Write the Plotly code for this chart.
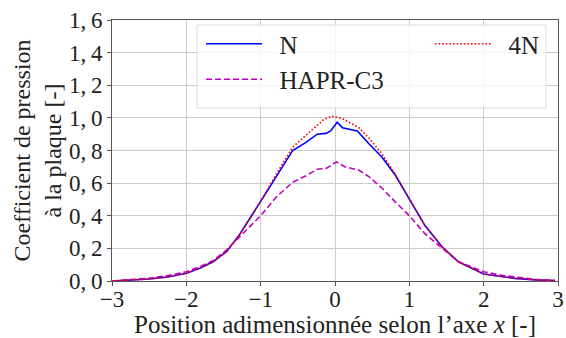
import plotly.graph_objects as go

# ----- DATA -----
x_n = [-3, -2.75, -2.5, -2.25, -2, -1.82, -1.64, -1.46, -1.29, -1.15, -1, -0.79, -0.57,
       -0.39, -0.24, -0.12, -0.06, 0.03, 0.1, 0.3, 0.46, 0.63, 0.81, 1.0, 1.21, 1.44,
       1.66, 2.0, 2.2, 2.42, 2.7, 2.96]
y_n = [0.0, 0.005, 0.012, 0.025, 0.047, 0.078, 0.118, 0.18, 0.28, 0.38, 0.485, 0.64, 0.80,
       0.85, 0.90, 0.905, 0.92, 0.973, 0.94, 0.92, 0.84, 0.76, 0.65, 0.505, 0.34, 0.21,
       0.118, 0.043, 0.028, 0.016, 0.007, 0.002]

x_4n = [-3, -2.75, -2.5, -2.25, -2, -1.82, -1.64, -1.46, -1.29, -1.15, -1, -0.79, -0.57,
        -0.3, -0.15, -0.04, 0.1, 0.32, 0.47, 0.63, 0.79, 1.0, 1.21, 1.44, 1.66, 2.0,
        2.2, 2.42, 2.7, 2.96]
y_4n = [0.0, 0.005, 0.012, 0.025, 0.047, 0.078, 0.118, 0.18, 0.28, 0.38, 0.49, 0.655, 0.82,
        0.93, 0.99, 1.01, 0.995, 0.94, 0.87, 0.78, 0.67, 0.505, 0.34, 0.21, 0.118, 0.043,
        0.028, 0.016, 0.007, 0.002]

x_hapr = [-3, -2.75, -2.5, -2.25, -2, -1.82, -1.64, -1.46, -1.29, -1, -0.79, -0.57, -0.39,
          -0.24, -0.12, 0.02, 0.13, 0.32, 0.455, 0.63, 0.81, 1.0, 1.21, 1.44, 1.66, 2.0,
          2.2, 2.42, 2.7, 2.96]
y_hapr = [0.0, 0.007, 0.017, 0.033, 0.057, 0.088, 0.125, 0.19, 0.27, 0.40, 0.515, 0.605, 0.645,
          0.685, 0.69, 0.73, 0.70, 0.68, 0.64, 0.57, 0.485, 0.40, 0.29, 0.20, 0.118, 0.057,
          0.038, 0.025, 0.01, 0.003]

x_ticks = [-3, -2, -1, 0, 1, 2, 3]
x_ticklabels = ["\u22123", "\u22122", "\u22121", "0", "1", "2", "3"]
y_ticks = [0, 0.2, 0.4, 0.6, 0.8, 1.0, 1.2, 1.4, 1.6]
y_ticklabels = ["0,\u20090", "0,\u20092", "0,\u20094", "0,\u20096", "0,\u20098",
                "1,\u20090", "1,\u20092", "1,\u20094", "1,\u20096"]

FONT = "Liberation Serif, Times New Roman, serif"
GAP = "\u2002"  # extra gap between legend line and label, as in matplotlib

fig = go.Figure()
fig.add_trace(go.Scatter(x=x_n, y=y_n, mode="lines", name=GAP + "N", legend="legend",
                         line=dict(color="#0000ff", width=1.6)))
fig.add_trace(go.Scatter(x=x_hapr, y=y_hapr, mode="lines", name=GAP + "HAPR-C3", legend="legend",
                         line=dict(color="#bf00bf", width=1.6, dash="6px,3px")))
fig.add_trace(go.Scatter(x=x_4n, y=y_4n, mode="lines", name=GAP + "4N", legend="legend2",
                         line=dict(color="#ff0000", width=1.6, dash="1.6px,2px")))

# legend frame (matplotlib style, two columns)
fig.add_shape(type="rect", xref="paper", yref="paper",
              x0=0.1906, x1=0.973, y0=0.663, y1=0.981,
              fillcolor="rgba(255,255,255,0.8)", line=dict(color="#dddddd", width=1),
              layer="above")

axis_style = dict(
    showline=True, linecolor="#555555", linewidth=1, mirror=True,
    showgrid=True, gridcolor="#cccccc", gridwidth=1, zeroline=False,
    ticks="outside", ticklen=4, tickcolor="#555555", automargin=False,
    tickfont=dict(family=FONT, size=23, color="#222222"),
)

legend_style = dict(
    orientation="v", xanchor="left", yanchor="top",
    bgcolor="rgba(0,0,0,0)", borderwidth=0,
    font=dict(family=FONT, size=25, color="#222222"), itemwidth=56,
)

fig.update_layout(
    width=566,
    height=338,
    margin=dict(l=112, r=8, t=20, b=57),
    plot_bgcolor="white",
    paper_bgcolor="white",
    font=dict(family=FONT, color="#222222"),
    showlegend=True,
    xaxis=dict(
        range=[-3, 3], tickvals=x_ticks, ticktext=x_ticklabels,
        title=dict(text="Position adimensionnée selon l’axe <i>x</i> [-]",
                   font=dict(family=FONT, size=25), standoff=1),
        ticklabelstandoff=-7,
        **axis_style,
    ),
    yaxis=dict(
        range=[0, 1.6], tickvals=y_ticks, ticktext=y_ticklabels,
        title=dict(text="Coefficient de pression<br>à la plaque [-]",
                   font=dict(family=FONT, size=24), standoff=0),
        **axis_style,
    ),
    legend=dict(x=0.1996, y=0.996, **legend_style),
    legend2=dict(x=0.713, y=0.996, **legend_style),
)

# page body has a default 8px margin; remove it so the figure fills the window
fig.write_html("out.html", config={"displayModeBar": False},
               post_script="document.body.style.margin='0';")
